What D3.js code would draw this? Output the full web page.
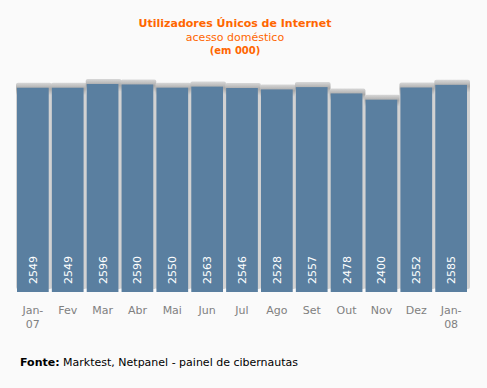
<!DOCTYPE html>
<html>
<head>
<meta charset="utf-8">
<script src="https://cdn.jsdelivr.net/npm/d3@7"></script>
<style>
  body { margin: 0; background: #fafafa; }
  svg { display: block; font-family: "DejaVu Sans", Verdana, sans-serif; }
</style>
</head>
<body>
<div id="chart"></div>
<script>
// chart data
var months = ["Jan-07", "Fev", "Mar", "Abr", "Mai", "Jun", "Jul", "Ago", "Set", "Out", "Nov", "Dez", "Jan-08"];
var users = [2549, 2549, 2596, 2590, 2550, 2563, 2546, 2528, 2557, 2478, 2400, 2552, 2585];

var svgWidth = 487;
var svgHeight = 388;

var svg = d3.select("#chart")
  .append("svg")
  .attr("width", svgWidth)
  .attr("height", svgHeight);

svg.append("rect")
  .attr("width", svgWidth)
  .attr("height", svgHeight)
  .attr("fill", "#fafafa");

// gradient for the shadow on top of the bars
var defs = svg.append("defs");
var grad = defs.append("linearGradient")
  .attr("id", "shade")
  .attr("x1", 0).attr("y1", 0).attr("x2", 0).attr("y2", 1);
grad.append("stop").attr("offset", "0").attr("stop-color", "#d8d8d8");
grad.append("stop").attr("offset", "0.03").attr("stop-color", "#a9a9a9");
grad.append("stop").attr("offset", "0.06").attr("stop-color", "#d2d2d2");
grad.append("stop").attr("offset", "1").attr("stop-color", "#d2d2d2");

var xScale = d3.scaleBand()
  .domain(months)
  .range([17, 467])
  .paddingInner(0.09);

var yScale = d3.scaleLinear()
  .domain([0, 3000])
  .range([292, 51.6]);

// shadows
svg.selectAll("rect.shadow")
  .data(users)
  .enter()
  .append("rect")
  .attr("class", "shadow")
  .attr("x", (d, i) => xScale(months[i]) - 1)
  .attr("y", d => yScale(d) - 5)
  .attr("width", xScale.bandwidth() + 4)
  .attr("height", d => 289 - yScale(d) + 5)
  .attr("rx", 2)
  .attr("fill", "url(#shade)");

// bars
svg.selectAll("rect.bar")
  .data(users)
  .enter()
  .append("rect")
  .attr("class", "bar")
  .attr("x", (d, i) => xScale(months[i]))
  .attr("y", d => yScale(d))
  .attr("width", xScale.bandwidth())
  .attr("height", d => yScale(0) - yScale(d))
  .attr("fill", "#5a7fa0");

// values inside bars
svg.selectAll("text.val")
  .data(users)
  .enter()
  .append("text")
  .attr("class", "val")
  .attr("transform", (d, i) => "translate(" + (xScale(months[i]) + xScale.bandwidth() / 2 + 4) + ",284) rotate(-90)")
  .attr("fill", "#ffffff")
  .style("font-size", "11px")
  .text(d => d);

// month labels
var labels = svg.selectAll("text.month")
  .data(months)
  .enter()
  .append("text")
  .attr("class", "month")
  .attr("x", d => xScale(d) + xScale.bandwidth() / 2)
  .attr("y", 314)
  .attr("text-anchor", "middle")
  .attr("fill", "#808080")
  .style("font-size", "11px");

labels.each(function(d) {
  var parts = d.indexOf("-") > 0 ? [d.split("-")[0] + "-", d.split("-")[1]] : [d];
  var t = d3.select(this);
  parts.forEach(function(p, j) {
    t.append("tspan")
      .attr("x", xScale(d) + xScale.bandwidth() / 2)
      .attr("dy", j == 0 ? 0 : 14)
      .text(p);
  });
});

// titles
svg.append("text")
  .attr("x", 235).attr("y", 27)
  .attr("text-anchor", "middle")
  .attr("fill", "#ff6600")
  .style("font-size", "11px")
  .style("font-weight", "bold")
  .text("Utilizadores Únicos de Internet");

svg.append("text")
  .attr("x", 235).attr("y", 41)
  .attr("text-anchor", "middle")
  .attr("fill", "#ff6600")
  .style("font-size", "11px")
  .text("acesso doméstico");

svg.append("text")
  .attr("x", 235).attr("y", 54)
  .attr("text-anchor", "middle")
  .attr("fill", "#ff6600")
  .style("font-size", "10px")
  .style("font-weight", "bold")
  .text("(em 000)");

// source
var src = svg.append("text")
  .attr("x", 20).attr("y", 366)
  .attr("fill", "#000")
  .style("font-size", "11px");
src.append("tspan").style("font-weight", "bold").text("Fonte:");
src.append("tspan").text(" Marktest, Netpanel - painel de cibernautas");
</script>
</body>
</html>
